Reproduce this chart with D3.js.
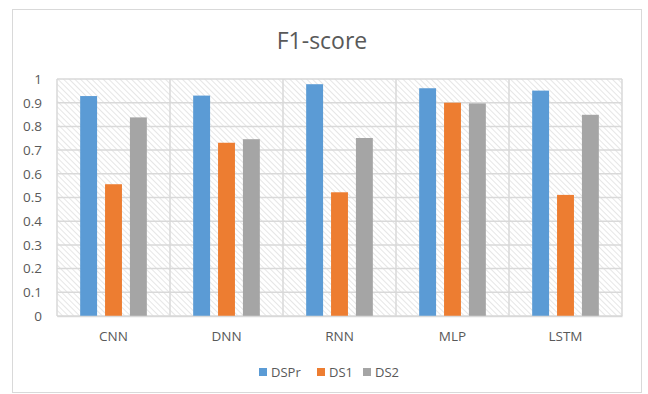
<!DOCTYPE html>
<html lang="en">
<head>
<meta charset="utf-8">
<title>F1-score</title>
<script src="https://cdn.jsdelivr.net/npm/d3@7"></script>
<style>
  body { margin: 0; background: #fff; }
  text { font-family: "Open Sans", sans-serif; fill: #595959; }
</style>
</head>
<body>
<div id="chart"></div>
<script>
const models = ["CNN", "DNN", "RNN", "MLP", "LSTM"];
const seriesNames = ["DSPr", "DS1", "DS2"];
const dsprValues = [0.928, 0.930, 0.978, 0.961, 0.951];
const ds1Values = [0.556, 0.731, 0.522, 0.900, 0.511];
const ds2Values = [0.838, 0.746, 0.751, 0.897, 0.849];
const yTicks = [0, 0.1, 0.2, 0.3, 0.4, 0.5, 0.6, 0.7, 0.8, 0.9, 1];
const colors = ["#5b9bd5", "#ed7d31", "#a5a5a5"];

const allValues = [dsprValues, ds1Values, ds2Values];

const W = 648, H = 394;
const margin = {top: 79, right: 26, bottom: 78, left: 57};
const w = W - margin.left - margin.right;
const h = H - margin.top - margin.bottom;

const svg = d3.select("#chart").append("svg")
  .attr("width", W).attr("height", H);

// hatch pattern for the plot area
const defs = svg.append("defs");
const pat = defs.append("pattern")
  .attr("id", "hatch")
  .attr("patternUnits", "userSpaceOnUse")
  .attr("width", 4).attr("height", 4)
  .attr("patternTransform", "rotate(-45)");
pat.append("rect").attr("width", 4).attr("height", 4).attr("fill", "#fff");
pat.append("line")
  .attr("x1", 0).attr("y1", 0).attr("x2", 0).attr("y2", 4)
  .attr("stroke", "#d2d2d2").attr("stroke-width", 1.1);

// outer frame
svg.append("rect")
  .attr("x", 12.5).attr("y", 9.5).attr("width", 629).attr("height", 383)
  .attr("fill", "none").attr("stroke", "#d9d9d9");

svg.append("text")
  .attr("x", 322).attr("y", 49)
  .attr("text-anchor", "middle")
  .attr("font-size", 23)
  .text("F1-score");

const g = svg.append("g")
  .attr("transform", `translate(${margin.left},${margin.top})`);

const x = d3.scaleBand().domain(models).range([0, w]);
const xInner = d3.scaleBand().domain(seriesNames)
  .range([x.bandwidth() * 0.205, x.bandwidth() * 0.795])
  .paddingInner(0.32);
const y = d3.scaleLinear().domain([0, 1]).range([h, 0]);

g.append("rect").attr("width", w).attr("height", h).attr("fill", "url(#hatch)");

// gridlines
g.selectAll(".hgrid").data(yTicks).join("line")
  .attr("x1", 0).attr("x2", w)
  .attr("y1", d => y(d)).attr("y2", d => y(d))
  .attr("stroke", "#d9d9d9").attr("stroke-width", 1.5);
g.selectAll(".vgrid").data(d3.range(models.length + 1)).join("line")
  .attr("x1", d => d * x.step()).attr("x2", d => d * x.step())
  .attr("y1", 0).attr("y2", h)
  .attr("stroke", "#d9d9d9").attr("stroke-width", 1.5);

// bars
const groups = g.selectAll(".grp").data(models).join("g")
  .attr("transform", d => `translate(${x(d)},0)`);
groups.selectAll("rect").data((d, i) => seriesNames.map((s, k) => ({s, k, v: allValues[k][i]})))
  .join("rect")
  .attr("x", d => xInner(d.s))
  .attr("width", xInner.bandwidth())
  .attr("y", d => y(d.v))
  .attr("height", d => h - y(d.v))
  .attr("fill", d => colors[d.k]);

// axes
const yAxis = g.append("g")
  .call(d3.axisLeft(y).tickValues(yTicks).tickSize(0).tickPadding(15).tickFormat(d => d3.format("~g")(d)));
yAxis.select(".domain").remove();
yAxis.selectAll("text").attr("font-size", 13.5);

const xAxis = g.append("g")
  .attr("transform", `translate(0,${h})`)
  .call(d3.axisBottom(x).tickSize(0).tickPadding(15));
xAxis.select(".domain").attr("stroke", "#d9d9d9").attr("stroke-width", 1.5);
xAxis.selectAll("text").attr("font-size", 13.5);

// legend
const legend = svg.append("g").attr("transform", "translate(259,372)");
const legX = [0, 58, 104];
seriesNames.forEach((s, i) => {
  const lg = legend.append("g").attr("transform", `translate(${legX[i]},0)`);
  lg.append("rect").attr("x", 0).attr("y", -4).attr("width", 8).attr("height", 8).attr("fill", colors[i]);
  lg.append("text").attr("x", 12).attr("y", 5).attr("font-size", 13).text(s);
});
</script>
</body>
</html>
